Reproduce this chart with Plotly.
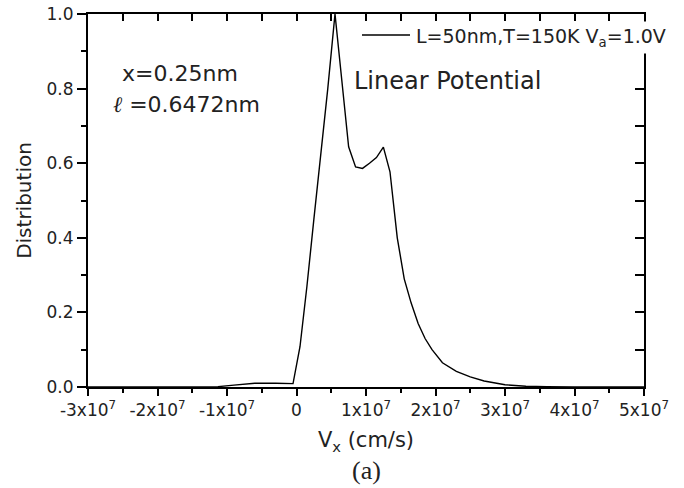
import plotly.graph_objects as go

# Data (velocity in cm/s, normalized distribution)
vx = [-3.0e7, -2.0e7, -1.5e7, -1.13e7, -0.9e7, -0.6e7, -0.3e7, -0.05e7,
      0.05e7, 0.15e7, 0.25e7, 0.35e7, 0.45e7, 0.554e7,
      0.75e7, 0.85e7, 0.95e7, 1.05e7, 1.15e7, 1.25e7, 1.345e7,
      1.45e7, 1.55e7, 1.65e7, 1.75e7, 1.85e7, 1.95e7, 2.1e7, 2.3e7,
      2.5e7, 2.7e7, 3.0e7, 3.3e7, 3.6e7, 4.0e7, 5.0e7]
dist = [0.0, 0.0, 0.0005, 0.001, 0.005, 0.010, 0.010, 0.009,
        0.108, 0.27, 0.45, 0.62, 0.80, 1.0,
        0.644, 0.59, 0.586, 0.60, 0.615, 0.643, 0.577,
        0.40, 0.29, 0.225, 0.17, 0.13, 0.10, 0.065, 0.042,
        0.027, 0.016, 0.006, 0.002, 0.001, 0.0, 0.0]

x_tickvals = [-3e7, -2e7, -1e7, 0, 1e7, 2e7, 3e7, 4e7, 5e7]
x_ticktext = ["-3x10<sup>7</sup>", "-2x10<sup>7</sup>", "-1x10<sup>7</sup>", "0",
              "1x10<sup>7</sup>", "2x10<sup>7</sup>", "3x10<sup>7</sup>",
              "4x10<sup>7</sup>", "5x10<sup>7</sup>"]
y_tickvals = [0.0, 0.2, 0.4, 0.6, 0.8, 1.0]
y_ticktext = ["0.0", "0.2", "0.4", "0.6", "0.8", "1.0"]

series_name = "L=50nm,T=150K V<sub>a</sub>=1.0V"

FONT = "DejaVu Sans"
TXT = "#222222"

# plot-area geometry helpers (pixels -> paper)
L, R, T, B = 88, 40, 14, 101
PW, PH = 684 - L - R, 488 - T - B


def px(x):
    return (x - L) / PW


def py(y):
    return 1 - (y - T) / PH


fig = go.Figure()
fig.add_trace(go.Scatter(x=vx, y=dist, mode="lines", name=series_name,
                         line=dict(color="black", width=1.4),
                         showlegend=False))
# invisible trace to activate the mirrored (top/right) axes
fig.add_trace(go.Scatter(x=vx, y=dist, mode="lines", xaxis="x2", yaxis="y2",
                         line=dict(color="rgba(0,0,0,0)", width=0),
                         showlegend=False, hoverinfo="skip"))

fig.update_layout(
    width=684, height=488,
    margin=dict(l=L, r=R, t=T, b=B),
    paper_bgcolor="white", plot_bgcolor="white",
    font=dict(family=FONT, size=17, color=TXT),
    showlegend=False,
    xaxis=dict(range=[-3e7, 5e7], showgrid=False, zeroline=False, automargin=False,
               showline=True, linecolor="black", linewidth=2,
               ticks="outside", ticklen=7, tickwidth=2, tickcolor="black",
               tickvals=x_tickvals, ticktext=x_ticktext,
               tickfont=dict(family=FONT, size=17, color=TXT),
               minor=dict(dtick=0.5e7, tick0=0, ticks="outside", ticklen=4,
                          tickwidth=2, tickcolor="black", showgrid=False),
               title=dict(text="V<sub>x</sub> (cm/s)", standoff=13,
                          font=dict(family=FONT, size=21, color=TXT))),
    xaxis2=dict(range=[-3e7, 5e7], overlaying="x", side="top", anchor="y",
                automargin=False,
                showgrid=False, zeroline=False, showline=True,
                linecolor="black", linewidth=2,
                ticks="inside", ticklen=7, tickwidth=2, tickcolor="black",
                dtick=0.5e7, tick0=0, showticklabels=False),
    yaxis=dict(range=[0, 1.0], showgrid=False, zeroline=False, automargin=False,
               showline=True, linecolor="black", linewidth=2,
               ticks="outside", ticklen=9, tickwidth=2, tickcolor="black",
               tickvals=y_tickvals, ticktext=y_ticktext,
               tickfont=dict(family=FONT, size=17, color=TXT),
               minor=dict(dtick=0.1, tick0=0, ticks="outside", ticklen=5,
                          tickwidth=2, tickcolor="black", showgrid=False),
               title=dict(text="Distribution", standoff=10,
                          font=dict(family=FONT, size=20, color=TXT))),
    yaxis2=dict(range=[0, 1.0], overlaying="y", side="right", anchor="x",
                automargin=False,
                showgrid=False, zeroline=False, showline=True,
                linecolor="black", linewidth=2,
                ticks="inside", ticklen=9, tickwidth=2, tickcolor="black",
                dtick=0.1, tick0=0, showticklabels=False),
)

# legend (sample line + label on a white box that hides part of the right axis)
fig.add_shape(type="line", xref="paper", yref="paper",
              x0=px(362), x1=px(410), y0=py(35), y1=py(35),
              line=dict(color="black", width=1.4))
fig.add_annotation(xref="paper", yref="paper", x=px(412), y=py(37),
                   xanchor="left", yanchor="middle", showarrow=False,
                   text=series_name, bgcolor="white", borderpad=3,
                   font=dict(family=FONT, size=19, color=TXT))

fig.add_annotation(xref="paper", yref="paper", x=px(120), y=py(73),
                   xanchor="left", yanchor="middle", showarrow=False,
                   text="x=0.25nm", font=dict(family=FONT, size=22, color=TXT))
fig.add_annotation(xref="paper", yref="paper", x=px(111), y=py(105),
                   xanchor="left", yanchor="middle", showarrow=False,
                   text='<span style="font-family:Liberation Serif;font-style:italic">ℓ</span> =0.6472nm',
                   font=dict(family=FONT, size=22, color=TXT))
fig.add_annotation(xref="paper", yref="paper", x=px(352), y=py(81),
                   xanchor="left", yanchor="middle", showarrow=False,
                   text="Linear Potential", font=dict(family=FONT, size=24, color=TXT))
fig.add_annotation(xref="paper", yref="paper", x=px(366), y=py(470),
                   xanchor="center", yanchor="middle", showarrow=False,
                   text="(a)", font=dict(family="Liberation Serif", size=26, color=TXT))

fig.write_html("out.html")
